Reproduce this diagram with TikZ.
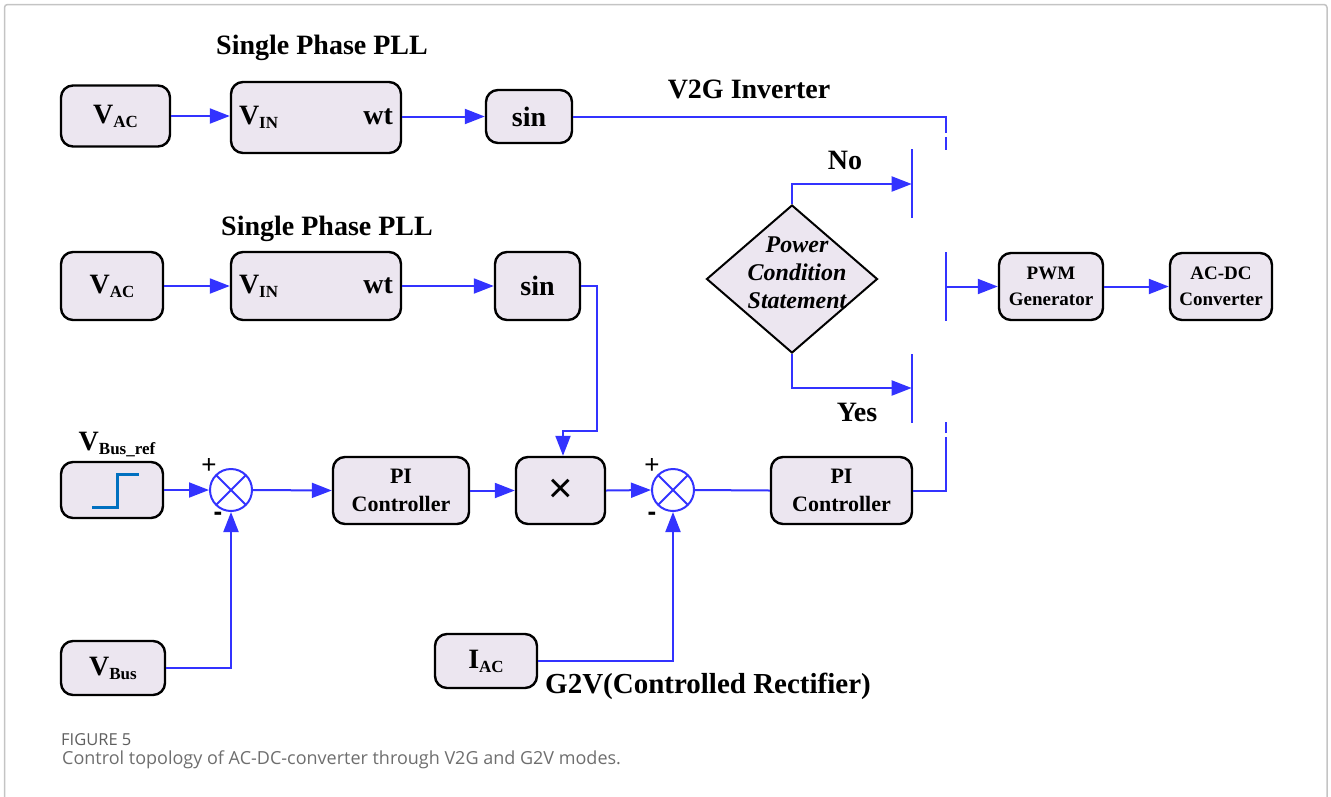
\documentclass[tikz,border=0pt]{standalone}
\usepackage{fontspec}
\setmainfont{Liberation Serif}
\newfontfamily\capfont{Open Sans}
\newfontfamily\sansfnt{Liberation Sans}
\usetikzlibrary{arrows.meta,shapes.geometric}
\definecolor{boxfill}{HTML}{ECE6F0}
\definecolor{wireblue}{HTML}{3333FF}
\definecolor{stepblue}{HTML}{0070C0}
\definecolor{framegray}{HTML}{C4C4C4}
\definecolor{capgray}{HTML}{5E5E5E}
\newcommand\fsz[1]{\fontsize{#1}{#1}\selectfont}
\newcommand\Vsub[2]{{\fsz{28}#1}\raisebox{-4pt}{\fsz{17}#2}}
\begin{document}
\begin{tikzpicture}[x=1pt,y=-1pt,
  blk/.style={draw=black, fill=boxfill, line width=2.4pt, rounded corners=12pt, inner sep=0pt, font=\bfseries, align=center},
  wire/.style={draw=wireblue, line width=2pt},
  arr/.style={wire, -{Triangle[length=20pt,width=15pt]}},
  sumj/.style={circle, draw=wireblue, line width=2pt, minimum size=42pt, inner sep=0pt,
    path picture={\draw[wireblue,line width=2pt] (path picture bounding box.north west) -- (path picture bounding box.south east) (path picture bounding box.north east) -- (path picture bounding box.south west);}},
  ttl/.style={font=\bfseries\fsz{28}, inner sep=0pt},
  pm/.style={font=\sansfnt\fsz{26}, inner sep=0pt},
  twoline/.style={font=\bfseries\fontsize{22}{28}\selectfont},
  small2/.style={font=\bfseries\fontsize{19}{26}\selectfont}
]
\useasboundingbox (0,0) rectangle (1331,796);
% frame
\draw[framegray, line width=1.5pt, rounded corners=3pt] (4.5,800) -- (4.5,4.5) -- (1327,4.5) -- (1327,800);

% ---------- row 1 ----------
\node[blk, minimum width=109pt, minimum height=61pt] (vac1) at (115.5,116) {\Vsub{V}{AC}};
\node[blk, minimum width=170pt, minimum height=71pt] (pll1) at (316,117.5) {\makebox[154pt]{\Vsub{V}{IN}\hfill{\fsz{28}wt}}};
\node[blk, minimum width=86pt, minimum height=53pt] (sin1) at (529,116.5) {\fsz{28}sin};
\node[ttl] (t1) at (322,48) {Single Phase PLL};
\node[ttl] (t3) at (749,89) {V2G Inverter};
\draw[arr] (vac1.east) -- (vac1.east -| pll1.west);
\draw[arr] (pll1.east |- sin1.west) -- (sin1.west);
\coordinate (v2gA) at (946,133);
\coordinate (v2gB) at (946,137);
\coordinate (v2gC) at (946,150);
\draw[wire] (sin1.east) -| (v2gA);
\draw[wire] (v2gB) -- (v2gC);

% ---------- decision ----------
\node[diamond, draw=black, fill=boxfill, line width=2pt, minimum width=171pt, minimum height=148pt, inner sep=0pt] (dia) at (792,279) {};
\node[font=\bfseries\itshape\fontsize{24}{28}\selectfont, align=center, inner sep=0pt] (diat) at (797,273) {Power\\Condition\\Statement};
\coordinate (noT) at (911.7,149);
\coordinate (noB) at (911.7,218);
\coordinate (noIn) at (911.7,184);
\coordinate (yesT) at (911.7,354);
\coordinate (yesB) at (911.7,423);
\coordinate (yesIn) at (911.7,388);
\coordinate (midT) at (946,252);
\coordinate (midB) at (946,321);
\coordinate (midOut) at (946,286.5);
\coordinate (g2vA) at (946,422);
\coordinate (g2vB) at (946,433);
\coordinate (g2vC) at (946,437);
\draw[wire] (noT) -- (noB);
\draw[wire] (yesT) -- (yesB);
\draw[wire] (midT) -- (midB);
\draw[arr] (dia.north) |- (noIn);
\draw[arr] (dia.south) |- (yesIn);
\node[ttl] (nolbl) at (845,160) {No};
\node[ttl] (yeslbl) at (857,412) {Yes};

\node[blk, small2, minimum width=104pt, minimum height=67pt] (pwm) at (1051,286.5) {PWM\\Generator};
\node[blk, small2, minimum width=102pt, minimum height=67pt] (acdc) at (1221,286.5) {AC-DC\\Converter};
\draw[arr] (midOut) -- (pwm.west);
\draw[arr] (pwm.east) -- (acdc.west);

% ---------- row 2 ----------
\node[blk, minimum width=102pt, minimum height=68pt] (vac2) at (112,286) {\Vsub{V}{AC}};
\node[blk, minimum width=170pt, minimum height=68pt] (pll2) at (316,286) {\makebox[154pt]{\Vsub{V}{IN}\hfill{\fsz{28}wt}}};
\node[blk, minimum width=85pt, minimum height=68pt] (sin2) at (537.5,286) {\fsz{28}sin};
\node[ttl] (t2) at (327,229) {Single Phase PLL};
\draw[arr] (vac2.east) -- (pll2.west);
\draw[arr] (pll2.east) -- (sin2.west);

% ---------- row 3 ----------
\node[blk, minimum width=102pt, minimum height=56pt] (ref) at (112,490) {};
\draw[stepblue, line width=3pt] (92,507) -- (117,507) -- (117,474) -- (139,474);
\node[inner sep=0pt, font=\bfseries] (reflbl) at (117,445) {\Vsub{V}{Bus\_ref}};
\node[sumj] (sum1) at (231,490) {};
\node[pm] (p1) at (209,466) {+};
\node[pm, font=\sansfnt\bfseries\fsz{26}] (m1) at (218,516) {-};
\node[blk, twoline, minimum width=136pt, minimum height=67pt] (pi1) at (401,490.5) {PI\\Controller};
\node[blk, minimum width=89pt, minimum height=67pt] (mul) at (560.5,490.5) {\sansfnt\mdseries\fsz{42}×};
\node[sumj] (sum2) at (673,490) {};
\node[pm] (p2) at (652,466) {+};
\node[pm, font=\sansfnt\bfseries\fsz{26}] (m2) at (652,516) {-};
\node[blk, twoline, minimum width=141pt, minimum height=67pt] (pi2) at (841.5,490.5) {PI\\Controller};
\node[blk, minimum width=104pt, minimum height=54pt] (vbus) at (113,668) {\Vsub{V}{Bus}};
\node[blk, minimum width=102pt, minimum height=54pt] (iac) at (486,661) {\Vsub{I}{AC}};
\node[ttl, font=\bfseries\fsz{29}] (g2v) at (708,686) {G2V(Controlled Rectifier)};

\draw[arr] (ref.east) -- (sum1.west);
\draw[arr] (sum1.east) -- (pi1.west);
\draw[arr] (pi1.east) -- (mul.west);
\draw[arr] (mul.east) -- (sum2.west);
\draw[wire] (sum2.east) -- (pi2.west);
\draw[arr] (vbus.east) -| (sum1.south);
\draw[arr] (iac.east) -| (sum2.south);
\coordinate (sinbend) at (597,431);
\draw[arr] (sin2.east) -| (sinbend) -| ([xshift=2.5pt]mul.north);
\draw[wire] (pi2.east) -| (g2vC);
\draw[wire] (g2vB) -- (g2vA);

% ---------- caption ----------
\node[anchor=west, inner sep=0pt, text=capgray, font=\capfont\fsz{16.5}] (figno) at (61,740) {FIGURE 5};
\node[anchor=west, inner sep=0pt, text=capgray!90, font=\capfont\fsz{18}] (cap) at (62,760) {Control topology of AC-DC-converter through V2G and G2V modes.};
\end{tikzpicture}
\end{document}
